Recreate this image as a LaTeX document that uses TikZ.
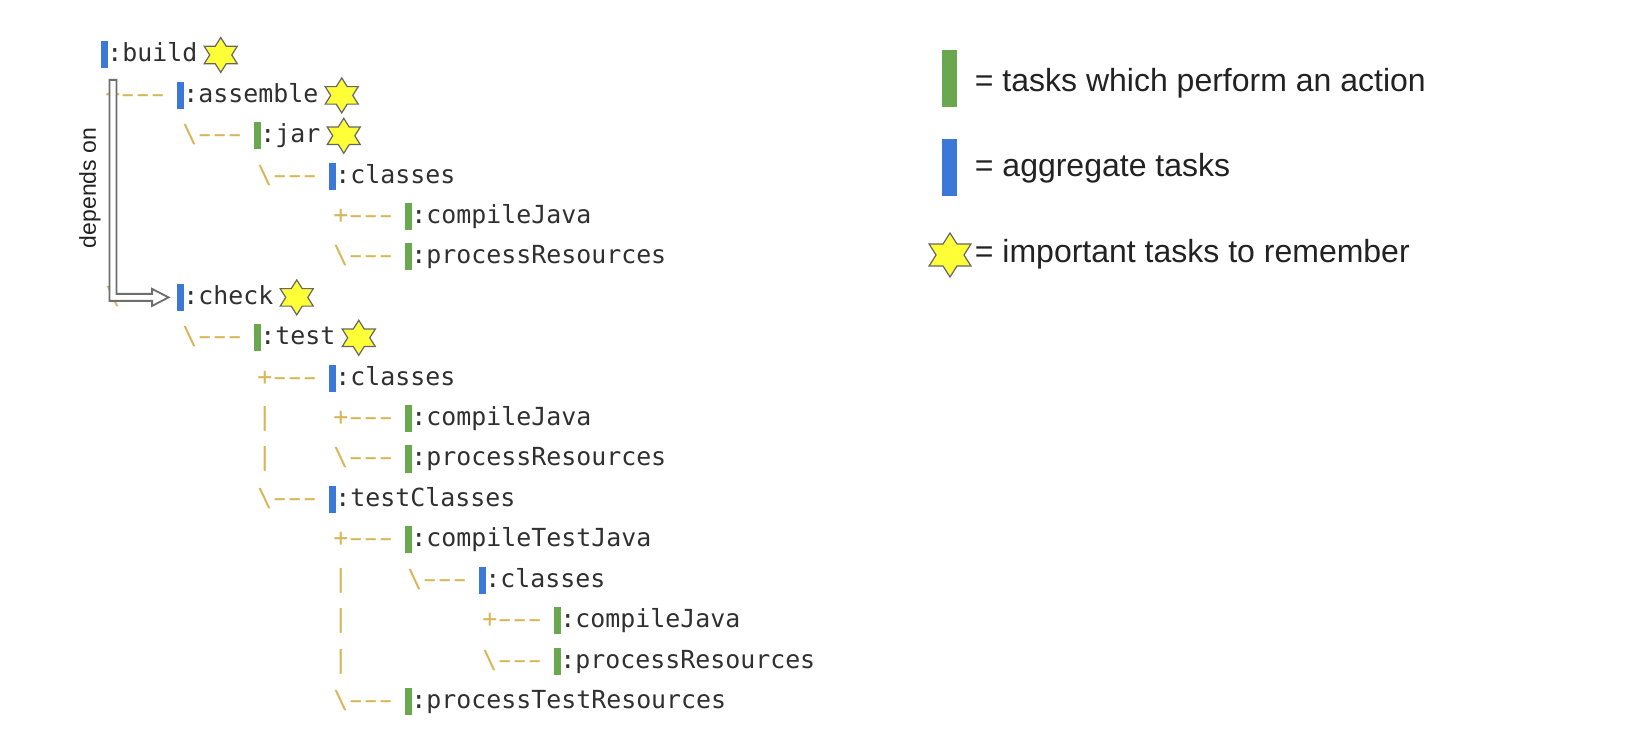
\documentclass[tikz,border=0pt]{standalone}
\usepackage{fontspec}
\usepackage{graphicx}
\setmainfont{Liberation Sans}
\newfontfamily\codefont{DejaVu Sans Mono}
\usetikzlibrary{shapes.geometric,calc}
\definecolor{aggblue}{HTML}{3C78D8}
\definecolor{actgreen}{HTML}{6AA84F}
\definecolor{treegold}{HTML}{D8B555}
\definecolor{codegray}{HTML}{303030}
\definecolor{staryellow}{HTML}{FFFF38}
\definecolor{stargray}{HTML}{666666}
\definecolor{arrowgray}{HTML}{6E6E6E}
\definecolor{legendtext}{HTML}{222222}
\newcommand{\longdash}{\makebox[0.602em]{\scalebox{1.6}[1]{-}}}
\tikzset{
  treebar/.style={rectangle, inner sep=0pt, minimum width=3.5pt, minimum height=13.5pt},
  aggbar/.style={treebar, fill=aggblue},
  actbar/.style={treebar, fill=actgreen},
  lbl/.style={anchor=base west, inner sep=0pt, text=codegray, font=\codefont\fontsize{12.45}{15}\selectfont},
  conn/.style={lbl, text=treegold},
  hexstar/.style={star, star points=6, star point ratio=1.732, inner sep=0pt,
    fill=staryellow, draw=stargray, line width=0.6pt, minimum size=17.5pt},
  bigstar/.style={hexstar, minimum size=22pt},
  legendbar/.style={rectangle, inner sep=0pt, minimum width=7.5pt, minimum height=28.5pt},
  legendlbl/.style={anchor=base west, inner sep=0pt, text=legendtext, font=\fontsize{16}{19}\selectfont},
  depbox/.style={fill=white, draw=arrowgray, line width=0.9pt, line join=miter},
}
% #1 id, #2 row y, #3 bar left x, #4 bar style, #5 label
\newcommand{\taskrow}[5]{%
  \node[#4] (b#1) at ({#3+3.5},#2) {};
  \node[lbl] (t#1) at ({#3+6},{#2+7}) {#5};
}
% #1 id, #2 row y, #3 x, #4 text
\newcommand{\connat}[4]{\node[conn] (#1) at (#3,{#2+7}) {#4};}
\newcommand{\plusconn}{+\longdash\longdash\longdash}
\newcommand{\lastconn}{\textbackslash\longdash\longdash\longdash}
% #1 name, #2 label node
\newcommand{\starafter}[2]{%
  \begin{scope}[shift={($(#2.base east)+(23,-7)$)}, xscale=1.09]
    \node[hexstar, transform shape] (#1) at (0,0) {};
  \end{scope}
}
\begin{document}
\begin{tikzpicture}[x=0.5pt,y=-0.5pt]
\fill[white] (0,0) rectangle (1638,753);
\useasboundingbox (0,0) rectangle (1638,753);

% connectors (tree characters)
\connat{c1}{95.4}{105}{\plusconn}
\connat{c2}{135.8}{182}{\lastconn}
\connat{c3}{176.2}{257}{\lastconn}
\connat{c4}{216.6}{333}{\plusconn}
\connat{c5}{257}{333}{\lastconn}
\connat{c6}{297.4}{105}{\lastconn}
\connat{c7}{337.8}{182}{\lastconn}
\connat{c8}{378.2}{257}{\plusconn}
\connat{c9}{418.6}{333}{\plusconn}
\connat{p9}{418.6}{257}{|}
\connat{c10}{459}{333}{\lastconn}
\connat{p10}{459}{257}{|}
\connat{c11}{499.4}{257}{\lastconn}
\connat{c12}{539.8}{333}{\plusconn}
\connat{c13}{580.2}{407}{\lastconn}
\connat{p13}{580.2}{333}{|}
\connat{c14}{620.6}{482}{\plusconn}
\connat{p14}{620.6}{333}{|}
\connat{c15}{661}{482}{\lastconn}
\connat{p15}{661}{333}{|}
\connat{c16}{701.4}{333}{\lastconn}

% tasks
\taskrow{0}{55}{101}{aggbar}{:build}
\taskrow{1}{95.4}{177}{aggbar}{:assemble}
\taskrow{2}{135.8}{254}{actbar}{:jar}
\taskrow{3}{176.2}{329}{aggbar}{:classes}
\taskrow{4}{216.6}{405}{actbar}{:compileJava}
\taskrow{5}{257}{405}{actbar}{:processResources}
\taskrow{6}{297.4}{177}{aggbar}{:check}
\taskrow{7}{337.8}{254}{actbar}{:test}
\taskrow{8}{378.2}{329}{aggbar}{:classes}
\taskrow{9}{418.6}{405}{actbar}{:compileJava}
\taskrow{10}{459}{405}{actbar}{:processResources}
\taskrow{11}{499.4}{329}{aggbar}{:testClasses}
\taskrow{12}{539.8}{405}{actbar}{:compileTestJava}
\taskrow{13}{580.2}{479}{aggbar}{:classes}
\taskrow{14}{620.6}{554}{actbar}{:compileJava}
\taskrow{15}{661}{554}{actbar}{:processResources}
\taskrow{16}{701.4}{405}{actbar}{:processTestResources}

% important stars
\starafter{s0}{t0}
\starafter{s1}{t1}
\starafter{s2}{t2}
\starafter{s6}{t6}
\starafter{s7}{t7}

% "depends on" arrow from build to check
\coordinate (depTop) at ($(b0.south)+(8.5,11)$);
\coordinate (depTip) at ($(b6.west)+(-8,0)$);
\draw[depbox]
  ($(depTop)+(-3.5,0)$) -- ($(depTop)+(3.5,0)$)
  -- ($(depTop |- depTip)+(3.5,-3.5)$)
  -- ($(depTip)+(-16.5,-3.5)$) -- ($(depTip)+(-16.5,-8.5)$)
  -- (depTip)
  -- ($(depTip)+(-16.5,8.5)$) -- ($(depTip)+(-16.5,3.5)$)
  -- ($(depTop |- depTip)+(-3.5,3.5)$) -- cycle;
\node[rotate=90, inner sep=0pt, text=legendtext, font=\fontsize{11.5}{13}\selectfont]
  (deplbl) at (90,188) {depends on};

% legend
\node[legendbar, fill=actgreen] (lg1) at (949.5,78.5) {};
\node[legendbar, fill=aggblue] (lg2) at (949.5,168) {};
\begin{scope}[shift={(950,255)}, xscale=1.1]
  \node[bigstar, transform shape] (lg3) at (0,0) {};
\end{scope}
\node[legendlbl] (lt1) at (974.5,92) {= tasks which perform an action};
\node[legendlbl] (lt2) at (974.5,177) {= aggregate tasks};
\node[legendlbl] (lt3) at (974.5,263) {= important tasks to remember};
\end{tikzpicture}
\end{document}
